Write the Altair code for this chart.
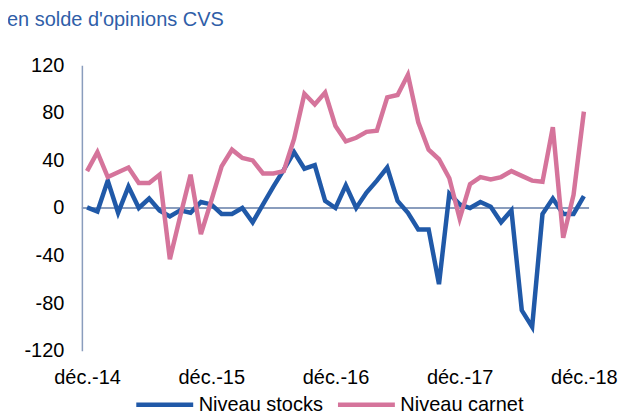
import altair as alt
import pandas as pd

months = list(range(49))
stocks = [0.5, -3, 23, -4, 18, 0, 8, -2, -7, -2, -4, 5, 3, -5, -5, 0, -12, 3, 18, 32,
          47, 33, 36, 6, 0, 19, 0, 13, 23, 34, 6, -4, -18, -18, -64, 12, 3, 0, 5, 1,
          -12, -2, -86, -100, -5, 8, -5, -5, 10]
carnet = [31, 47, 26, 30, 34, 21, 21, 28, -43, -7, 28, -22, 6, 35, 49, 42, 40, 29, 29, 31,
          58, 96, 87, 97, 69, 56, 59, 64, 65, 93, 95, 112, 72, 49, 41, 25, -9, 20, 26, 24,
          26, 31, 27, 23, 22, 68, -25, 11, 81]
tick_positions = [0, 12, 24, 36, 48]
tick_labels = ["déc.-14", "déc.-15", "déc.-16", "déc.-17", "déc.-18"]
y_ticks = [-120, -80, -40, 0, 40, 80, 120]
series_names = ["Niveau stocks", "Niveau carnet"]
colors = ["#2059a8", "#d5749b"]

df = pd.DataFrame({
    "m": months * 2,
    "v": stocks + carnet,
    "s": [series_names[0]] * len(months) + [series_names[1]] * len(months),
})

label_expr = " : ".join(
    f"datum.value == {p} ? '{l}'" for p, l in zip(tick_positions, tick_labels)
) + " : ''"

FONT = "Liberation Sans"

zero = alt.Chart(pd.DataFrame({"z": [0]})).mark_rule(color="#8a9dbd", strokeWidth=2).encode(
    y=alt.Y("z:Q", scale=alt.Scale(domain=[-120, 120]))
)

lines = alt.Chart(df).mark_line(strokeWidth=4.5).encode(
    x=alt.X("m:Q", scale=alt.Scale(domain=[-0.5, 48.5], nice=False, zero=False),
            axis=alt.Axis(values=tick_positions, labelExpr=label_expr, title=None,
                          domain=False, ticks=False, grid=False, labelFontSize=20,
                          labelPadding=17, labelFont=FONT, labelColor="#000000")),
    y=alt.Y("v:Q", scale=alt.Scale(domain=[-120, 120], nice=False),
            axis=alt.Axis(values=y_ticks, title=None, grid=False, ticks=False,
                          domain=True, domainColor="#8a9dbd", domainWidth=1.5,
                          labelExpr="'' + datum.value",
                          labelFontSize=20, labelPadding=18, labelFont=FONT,
                          labelColor="#000000")),
    color=alt.Color("s:N", scale=alt.Scale(domain=series_names, range=colors),
                    legend=alt.Legend(title=None, orient="none", legendX=52, legendY=309,
                                      direction="horizontal", symbolType="stroke",
                                      symbolSize=3249, symbolStrokeWidth=4.5,
                                      labelFontSize=20, labelFont=FONT,
                                      labelColor="#000000", labelOffset=3,
                                      columnPadding=5, padding=0)),
)

chart = alt.layer(zero, lines).properties(
    width=508, height=286,
    padding={"left": 74, "top": 57, "right": 40, "bottom": 63},
    autosize=alt.AutoSizeParams(type="none"),
    title=alt.TitleParams("en solde d'opinions CVS", anchor="start", frame="group",
                          dx=-75, offset=25, fontSize=20, font=FONT, fontWeight="normal",
                          color="#2f5ea8"),
).configure_view(stroke=None)

chart.save("out.html", embed_options={"renderer": "svg", "actions": False})
